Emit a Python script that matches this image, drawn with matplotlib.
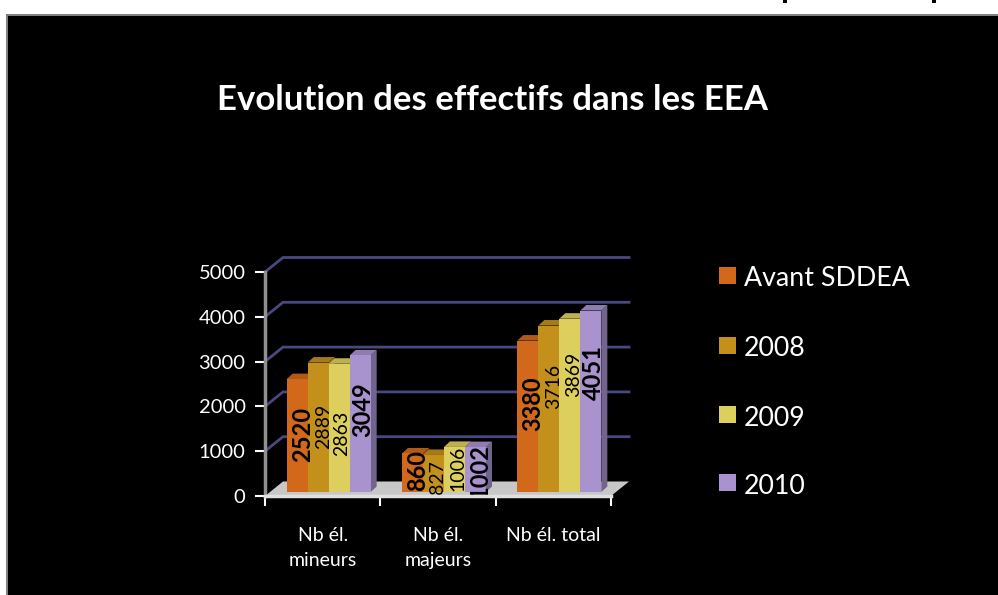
#!/bin/env python3

import matplotlib
matplotlib.use("Agg")
import matplotlib.pyplot as plt
from matplotlib.patches import Polygon, Rectangle
from matplotlib.colors import to_rgb

plt.rcParams['font.family'] = ['Lato', 'DejaVu Sans']

title = 'Evolution des effectifs dans les EEA'
categories = ['Nb él.\nmineurs', 'Nb él.\nmajeurs', 'Nb él. total']
series_names = ['Avant SDDEA', '2008', '2009', '2010']
values = [
    [2520, 860, 3380],
    [2889, 827, 3716],
    [2863, 1006, 3869],
    [3049, 1002, 4051],
]
y_ticks = [0, 1000, 2000, 3000, 4000, 5000]

colors = ['#D2691A', '#C4901C', '#DDCF5D', '#A993CF']
bold_label = [True, False, False, True]
# nudges of the value labels from the middle of each bar, in pixels (series, category)
nudge_x = [[5, 5, 5], [5, 4.5, 4.5], [2, 3.5, 3.5], [3, 4.5, 2.5]]
nudge_y = [[1.5, 2, 13], [1, -3.5, 22], [-6, 1.5, 31], [14, -1.5, 29]]

W, H = 998, 595
fig = plt.figure(figsize=(W / 100, H / 100), dpi=100, facecolor='white')

# slide background, kept under the axes
fig.add_artist(Rectangle((6 / W, 0), 1, 1 - 14 / H, transform=fig.transFigure, color='#808080', lw=0, zorder=-2))
fig.add_artist(Rectangle((8 / W, 0), 1, 1 - 16 / H, transform=fig.transFigure, color='black', lw=0, zorder=-1))
for sx in [785, 934]:
    fig.add_artist(Rectangle((sx / W - 2 / W, 1 - 3 / H), 4 / W, 3 / H, transform=fig.transFigure, color='black', lw=0))

fig.text(492.5 / W, 1 - 100 / H, title, color='white', fontsize=25, fontweight='bold', ha='center', va='center')

# plot box: x ticks 265..611, y 0 at 496, 5000 at 272
ax = fig.add_axes([265 / W, 1 - 496 / H, 346 / W, 224 / H])
ax.set_xlim(-0.5, 2.5)
ax.set_ylim(0, 5000)
ax.patch.set_alpha(0)
for s in ax.spines.values():
    s.set_visible(False)

px_x = 3 / 346
px_y = 5000 / 224


def shade(c, f):
    return tuple(v * f for v in to_rgb(c))


# floor and back wall grid
depth_x, depth_y = 18 * px_x, 14.5 * px_y
ax.add_patch(Polygon([(-0.5, 0), (-0.5 + depth_x, depth_y), (2.5 + depth_x, depth_y), (2.5, 0)],
                     facecolor='#C8C8C8', edgecolor='none', clip_on=False, zorder=1))
for t in y_ticks[1:]:
    ax.plot([-0.5, -0.5 + depth_x, 2.5 + depth_x], [t, t + depth_y, t + depth_y], color='#4A4880', lw=2,
            clip_on=False, zorder=1, solid_joinstyle='miter')

# axis lines and ticks
ax.plot([-0.5, -0.5], [0, 5000], color='#909090', lw=2.5, clip_on=False, zorder=6)
ax.plot([-0.5, 2.5], [0, 0], color='#E0E0E0', lw=2.5, clip_on=False, zorder=6)
ax.set_xticks([-0.5, 0.5, 1.5, 2.5])
ax.set_xticklabels([])
ax.set_yticks(y_ticks)
ax.tick_params(axis='y', colors='white', labelsize=14.5, length=7, width=1.5, pad=7)
ax.tick_params(axis='x', colors='white', length=7, width=1.5)
for i, c in enumerate(categories):
    ax.annotate(c, xy=(i, 0), xytext=(0, -22), xycoords='data', textcoords='offset points', color='white',
                fontsize=14, ha='center', va='top', linespacing=1.6, annotation_clip=False)

# 3D bars, drawn back to front per group
bar_w = 21 * px_x
base = 4 * px_y
shift = 6 * px_x
side_x, side_y = 6 * px_x, 5.5 * px_y
for j in range(len(categories)):
    start = j + shift - 2 * bar_w
    for i, name in enumerate(series_names):
        v = values[i][j]
        x0 = start + i * bar_w
        x1 = x0 + bar_w
        top = base + v
        ax.add_patch(Polygon([(x1, base), (x1 + side_x, base + side_y), (x1 + side_x, top + side_y), (x1, top)],
                             facecolor=shade(colors[i], 0.68), edgecolor='none', zorder=2 + i * 0.1))
        ax.add_patch(Polygon([(x0, top), (x0 + side_x, top + side_y), (x1 + side_x, top + side_y), (x1, top)],
                             facecolor=shade(colors[i], 0.85), edgecolor='none', zorder=2 + i * 0.1))
        ax.bar(x0, v, width=bar_w, bottom=base, align='edge', color=colors[i], linewidth=0, zorder=2.05 + i * 0.1)
        ax.annotate(str(v), xy=(x0 + bar_w / 2, base + v / 2),
                    xytext=(nudge_x[i][j] * 0.72, nudge_y[i][j] * 0.72), textcoords='offset points',
                    rotation=90, ha='center', va='center', color='black', zorder=5, annotation_clip=False,
                    fontsize=17 if bold_label[i] else 14, fontweight='bold' if bold_label[i] else 'normal')

# legend by hand, to sit where the slide had it
legend_y = [279, 349, 418, 486]
for name, col, ly in zip(series_names, colors, legend_y):
    fig.add_artist(Rectangle((719 / W, 1 - (ly + 5) / H), 17 / W, 17 / H, transform=fig.transFigure,
                             facecolor=col, edgecolor='none'))
    fig.text(744 / W, 1 - ly / H, name, color='white', fontsize=19.3, ha='left', va='center')

fig.savefig('out.png', dpi=100, facecolor='white')
